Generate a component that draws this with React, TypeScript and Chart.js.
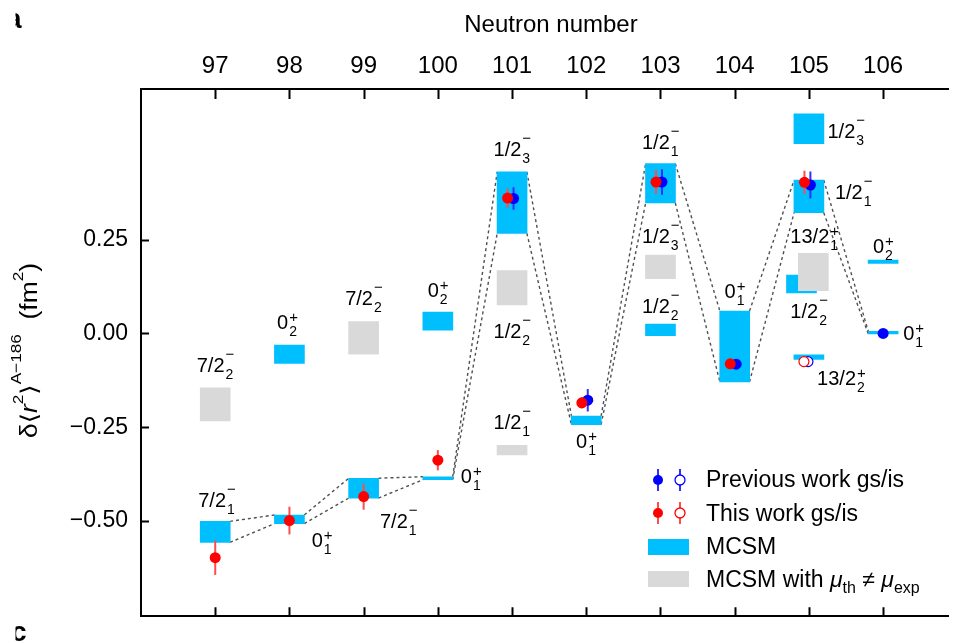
import { useEffect, useRef } from "react";
import { Chart, registerables } from "chart.js";

Chart.register(...registerables);

const SANS = '"Liberation Sans", Arial, Helvetica, "DejaVu Sans", sans-serif';
const CYAN = "#00BFFF";
const GREY = "#D9D9D9";
const RED = "#FF0000";
const RED_BAR = "#FF4D4D";
const BLUE = "#0000FF";
const BLUE_BAR = "#3030FF";
const DASH = "#505050";

const X_MIN = 96;
const X_MAX = 106.885;
const Y_MIN = -0.754;
const Y_MAX = 0.652;
const HALF_W = 0.2; // half-width of a state box in neutron-number units

const neutronTicks = [97, 98, 99, 100, 101, 102, 103, 104, 105, 106];
const deltaTicks = [-0.5, -0.25, 0, 0.25];

// Lowest MCSM states, joined by the dashed band
const chainN = [97, 98, 99, 100, 101, 102, 103, 104, 105, 106];
const chainLow = [-0.557, -0.507, -0.439, -0.39, 0.267, -0.243, 0.348, -0.129, 0.322, -0.001];
const chainHigh = [-0.501, -0.484, -0.386, -0.382, 0.431, -0.22, 0.453, 0.06, 0.409, 0.006];

// Other MCSM states
const extraN = [98, 100, 103, 104.9, 105, 105, 106];
const extraLow = [-0.08, 0.009, -0.006, 0.108, 0.506, -0.069, 0.187];
const extraHigh = [-0.031, 0.057, 0.025, 0.156, 0.586, -0.057, 0.196];

// MCSM states whose magnetic moment disagrees with experiment
const greyN = [97, 99, 101, 101, 103, 105.06];
const greyLow = [-0.233, -0.055, 0.076, -0.324, 0.146, 0.114];
const greyHigh = [-0.145, 0.032, 0.168, -0.298, 0.209, 0.214];

// This work, ground states
const thisGsN = [97, 98, 99, 100, 101, 102, 103, 104, 105];
const thisGsVal = [-0.598, -0.499, -0.435, -0.338, 0.361, -0.185, 0.404, -0.081, 0.403];
const thisGsErr = [0.046, 0.037, 0.035, 0.027, 0.026, 0.015, 0.032, 0.008, 0.031];

// Previous work, ground states
const prevGsN = [101, 102, 103, 104, 105, 106];
const prevGsVal = [0.36, -0.178, 0.404, -0.082, 0.396, 0.0];
const prevGsErr = [0.03, 0.03, 0.034, 0.008, 0.036, 0.0];

// Isomers
const thisIsN = [105];
const thisIsVal = [-0.075];
const thisIsErr = [0.01];
const prevIsN = [105];
const prevIsVal = [-0.075];
const prevIsErr = [0.01];

// State labels: main text, subscript, superscript, anchor
const labelMain = ["7/2", "7/2", "0", "0", "7/2", "7/2", "0", "0", "1/2", "1/2", "1/2", "0", "1/2", "1/2", "1/2", "0", "1/2", "1/2", "13/2", "1/2", "13/2", "0", "0"];
const labelSub = ["2", "1", "2", "1", "2", "1", "2", "1", "3", "2", "1", "1", "1", "3", "2", "1", "3", "1", "1", "2", "2", "2", "1"];
const labelSup = ["−", "−", "+", "+", "−", "−", "+", "+", "−", "−", "−", "+", "−", "−", "−", "+", "−", "−", "+", "−", "+", "+", "+"];
const labelX = [97, 97.02, 97.97, 98.3, 99, 99.22, 100, 100.31, 101, 101, 101, 102, 103, 103, 103, 104, 105.25, 105.35, 104.75, 104.75, 105.11, 106, 106.27];
const labelY = [-0.103, -0.464, 0.011, -0.57, 0.076, -0.52, 0.098, -0.398, 0.472, -0.011, -0.256, -0.306, 0.491, 0.24, 0.055, 0.095, 0.522, 0.359, 0.24, 0.042, -0.137, 0.214, -0.018];
const labelAlign = ["c", "c", "c", "l", "c", "l", "c", "l", "c", "c", "c", "c", "c", "c", "c", "c", "l", "l", "l", "l", "l", "c", "l"];

const font = (size: number, style = "") => `${style} ${size}px ${SANS}`.trim();

type Run = { t: string; size: number; style?: string; dy?: number };

function runsWidth(ctx: CanvasRenderingContext2D, runs: Run[]) {
  let w = 0;
  for (const r of runs) {
    ctx.font = font(r.size, r.style);
    w += ctx.measureText(r.t).width;
  }
  return w;
}

function drawRuns(ctx: CanvasRenderingContext2D, runs: Run[], x: number, y: number) {
  let cx = x;
  for (const r of runs) {
    ctx.font = font(r.size, r.style);
    ctx.fillText(r.t, cx, y + (r.dy ?? 0));
    cx += ctx.measureText(r.t).width;
  }
}

function drawState(ctx: CanvasRenderingContext2D, px: number, py: number, main: string, sub: string, sup: string, align: string) {
  ctx.font = font(20);
  const wm = ctx.measureText(main).width;
  ctx.font = font(14);
  const ws = Math.max(ctx.measureText(sub).width, ctx.measureText(sup).width);
  const total = wm + 1 + ws;
  const left = align === "c" ? px - total / 2 : px;
  ctx.font = font(20);
  ctx.fillText(main, left, py);
  ctx.font = font(14);
  ctx.fillText(sub, left + wm + 1, py + 7);
  ctx.font = font(15);
  ctx.fillText(sup, left + wm + 1, py - (sup === "+" ? 7 : 13));
}

function marker(ctx: CanvasRenderingContext2D, x: number, y: number, color: string, barColor: string, open: boolean) {
  ctx.strokeStyle = barColor;
  ctx.lineWidth = 2;
  ctx.beginPath();
  ctx.moveTo(x, y - 11);
  ctx.lineTo(x, y + 11);
  ctx.stroke();
  ctx.beginPath();
  ctx.arc(x, y, 5, 0, Math.PI * 2);
  if (open) {
    ctx.fillStyle = "#fff";
    ctx.fill();
    ctx.lineWidth = 1.3;
    ctx.strokeStyle = color;
    ctx.stroke();
  } else {
    ctx.fillStyle = color;
    ctx.fill();
  }
}

const errorBars = {
  id: "errorBars",
  beforeDatasetDraw(chart: any, args: any) {
    const ds = chart.data.datasets[args.index];
    if (!ds.errors) return;
    const { ctx, scales } = chart;
    ctx.save();
    ctx.strokeStyle = ds.errorColor;
    ctx.lineWidth = 2;
    ds.data.forEach((p: any, i: number) => {
      const e = ds.errors[i];
      if (!e) return;
      const x = scales.x.getPixelForValue(p.x);
      ctx.beginPath();
      ctx.moveTo(x, scales.y.getPixelForValue(p.y + e));
      ctx.lineTo(x, scales.y.getPixelForValue(p.y - e));
      ctx.stroke();
    });
    ctx.restore();
  },
};

const decorations = {
  id: "decorations",
  afterDraw(chart: any) {
    const { ctx, scales, chartArea } = chart;
    const xs = scales.x;
    const ys = scales.y;
    ctx.save();

    // inward tick marks
    ctx.strokeStyle = "#000";
    ctx.lineWidth = 2;
    for (const n of neutronTicks) {
      const px = Math.round(xs.getPixelForValue(n)) + 0.5;
      ctx.beginPath();
      ctx.moveTo(px, chartArea.top);
      ctx.lineTo(px, chartArea.top + 10);
      ctx.moveTo(px, chartArea.bottom);
      ctx.lineTo(px, chartArea.bottom - 9);
      ctx.stroke();
    }
    for (const v of deltaTicks) {
      const py = Math.round(ys.getPixelForValue(v)) + 0.5;
      ctx.beginPath();
      ctx.moveTo(chartArea.left, py);
      ctx.lineTo(chartArea.left + 8, py);
      ctx.stroke();
    }

    // state labels
    ctx.fillStyle = "#000";
    ctx.textBaseline = "alphabetic";
    ctx.textAlign = "left";
    labelMain.forEach((m, i) => {
      drawState(ctx, xs.getPixelForValue(labelX[i]), ys.getPixelForValue(labelY[i]), m, labelSub[i], labelSup[i], labelAlign[i]);
    });

    // axis titles
    ctx.font = font(24);
    ctx.textAlign = "center";
    ctx.fillText("Neutron number", 551, 32);
    ctx.textAlign = "left";

    const yTitle: Run[] = [
      { t: "δ", size: 23 },
      { t: "\u27E8", size: 23 },
      { t: "r", size: 23, style: "italic" },
      { t: "2", size: 15, dy: -14 },
      { t: "\u27E9", size: 23 },
      { t: "A−186", size: 15, dy: -16 },
      { t: "  (fm", size: 23 },
      { t: "2", size: 15, dy: -14 },
      { t: ")", size: 23 },
    ];
    const w = runsWidth(ctx, yTitle);
    ctx.save();
    ctx.translate(37, 350.5);
    ctx.rotate(-Math.PI / 2);
    ctx.scale(175 / w, 1);
    drawRuns(ctx, yTitle, -w / 2, 0);
    ctx.restore();

    // legend
    marker(ctx, 658, 480, BLUE, BLUE_BAR, false);
    marker(ctx, 680, 480, BLUE, BLUE_BAR, true);
    marker(ctx, 658, 513, RED, RED_BAR, false);
    marker(ctx, 680, 513, RED, RED_BAR, true);
    ctx.fillStyle = CYAN;
    ctx.fillRect(648, 539, 41, 16);
    ctx.fillStyle = GREY;
    ctx.fillRect(648, 571, 41, 16);
    ctx.fillStyle = "#000";
    ctx.font = font(23);
    ctx.fillText("Previous work gs/is", 706, 487);
    ctx.fillText("This work gs/is", 706, 520.5);
    ctx.fillText("MCSM", 706, 554);
    drawRuns(
      ctx,
      [
        { t: "MCSM with ", size: 23 },
        { t: "μ", size: 23, style: "italic" },
        { t: "th", size: 16, dy: 6 },
        { t: " ≠ ", size: 23 },
        { t: "μ", size: 23, style: "italic" },
        { t: "exp", size: 16, dy: 6 },
      ],
      706,
      586.5
    );

    // panel letters at the page edge
    ctx.save();
    ctx.beginPath();
    ctx.rect(15.5, 0, 30, 643);
    ctx.clip();
    ctx.font = font(28, "bold");
    ctx.fillText("a", 6, 28);
    ctx.fillText("c", 11, 641);
    ctx.restore();

    ctx.restore();
  },
};

const bars = (n: number[], lo: number[], hi: number[]) => n.map((x, i) => ({ x, y: [lo[i], hi[i]] }));

function connector(vals: number[]) {
  const pts: any[] = [];
  for (let i = 0; i < chainN.length - 1; i++) {
    pts.push({ x: chainN[i] + HALF_W, y: vals[i] });
    pts.push({ x: chainN[i + 1] - HALF_W, y: vals[i + 1] });
    pts.push({ x: chainN[i + 1], y: null });
  }
  return pts;
}

const pairShift = (n: number, others: number[], d: number) => (others.includes(n) ? d : 0);

export default function App() {
  const ref = useRef<HTMLCanvasElement | null>(null);

  useEffect(() => {
    if (!ref.current) return;
    const barCommon = { type: "bar", barThickness: 30, grouped: false, borderWidth: 0 };
    const lineCommon = {
      type: "line",
      borderColor: DASH,
      borderWidth: 1.4,
      borderDash: [3, 3],
      pointRadius: 0,
      spanGaps: false,
      fill: false,
      order: 5,
    };
    const chart = new Chart(ref.current, {
      type: "bar",
      data: {
        datasets: [
          {
            type: "scatter",
            label: "This work gs",
            data: thisGsN.map((n, i) => ({ x: n + pairShift(n, prevGsN, -0.06), y: thisGsVal[i] })),
            errors: thisGsErr,
            errorColor: RED_BAR,
            pointRadius: 5.5,
            pointBackgroundColor: RED,
            pointBorderWidth: 0,
            order: 1,
          },
          {
            type: "scatter",
            label: "This work is",
            data: thisIsN.map((n, i) => ({ x: n - 0.067, y: thisIsVal[i] })),
            errors: thisIsErr,
            errorColor: RED_BAR,
            pointRadius: 5,
            pointBackgroundColor: "#fff",
            pointBorderColor: RED,
            pointBorderWidth: 1.2,
            order: 1,
          },
          {
            type: "scatter",
            label: "Previous work gs",
            data: prevGsN.map((n, i) => ({ x: n + pairShift(n, thisGsN, 0.02), y: prevGsVal[i] })),
            errors: prevGsErr,
            errorColor: BLUE_BAR,
            pointRadius: 5.5,
            pointBackgroundColor: BLUE,
            pointBorderWidth: 0,
            order: 2,
          },
          {
            type: "scatter",
            label: "Previous work is",
            data: prevIsN.map((n, i) => ({ x: n - 0.013, y: prevIsVal[i] })),
            errors: prevIsErr,
            errorColor: BLUE_BAR,
            pointRadius: 5,
            pointBackgroundColor: "#fff",
            pointBorderColor: BLUE,
            pointBorderWidth: 1.2,
            order: 2,
          },
          { ...barCommon, label: "MCSM mu mismatch", data: bars(greyN, greyLow, greyHigh), backgroundColor: GREY, order: 3 },
          { ...barCommon, label: "MCSM lowest", data: bars(chainN, chainLow, chainHigh), backgroundColor: CYAN, order: 4 },
          { ...barCommon, label: "MCSM", data: bars(extraN, extraLow, extraHigh), backgroundColor: CYAN, order: 4 },
          { ...lineCommon, label: "band top", data: connector(chainHigh) },
          { ...lineCommon, label: "band bottom", data: connector(chainLow) },
        ] as any,
      },
      options: {
        responsive: false,
        animation: false,
        devicePixelRatio: 1,
        events: [],
        layout: { padding: 0 },
        plugins: { legend: { display: false }, tooltip: { enabled: false } },
        scales: {
          x: {
            type: "linear",
            position: "top",
            min: X_MIN,
            max: X_MAX,
            offset: false,
            grid: { display: false, drawTicks: false, offset: false },
            border: { display: true, color: "#000", width: 2 },
            ticks: {
              padding: 8,
              autoSkip: false,
              maxRotation: 0,
              color: "#000",
              font: { family: SANS, size: 24 },
              callback: (v: any) => String(v),
            },
            afterBuildTicks: (s: any) => {
              s.ticks = neutronTicks.map((value) => ({ value }));
            },
            afterFit: (s: any) => {
              s.height = 89;
            },
          },
          x2: {
            type: "linear",
            position: "bottom",
            min: X_MIN,
            max: X_MAX,
            offset: false,
            grid: { display: false, drawTicks: false },
            border: { display: true, color: "#000", width: 2 },
            ticks: { display: false },
            afterFit: (s: any) => {
              s.height = 21;
            },
          },
          y: {
            type: "linear",
            position: "left",
            min: Y_MIN,
            max: Y_MAX,
            grid: { display: false, drawTicks: false },
            border: { display: true, color: "#000", width: 2 },
            ticks: {
              padding: 13,
              color: "#000",
              font: { family: SANS, size: 23 },
              callback: (v: any) => (v < 0 ? "\u2212" : "") + Math.abs(v).toFixed(2),
            },
            afterBuildTicks: (s: any) => {
              s.ticks = deltaTicks.map((value) => ({ value }));
            },
            afterFit: (s: any) => {
              s.width = 141;
            },
          },
        },
      } as any,
      plugins: [errorBars, decorations],
    });
    return () => chart.destroy();
  }, []);

  return (
    <div style={{ position: "absolute", left: 0, top: 0, width: 955, height: 643, background: "#fff" }}>
      <canvas ref={ref} width={955} height={643} style={{ display: "block" }} />
    </div>
  );
}
